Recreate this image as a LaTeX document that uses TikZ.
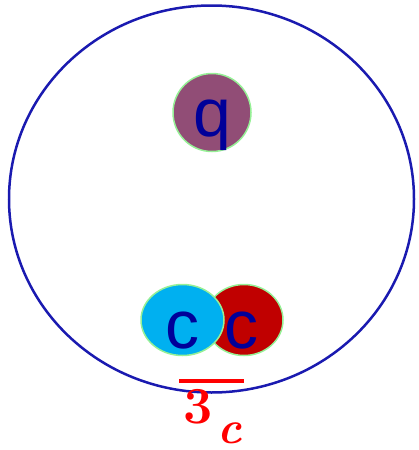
\documentclass[tikz,border=0pt]{standalone}
\usepackage{fontspec}
\setsansfont{Liberation Sans}
\definecolor{ringblue}{RGB}{26,26,176}
\definecolor{qfill}{RGB}{145,77,118}
\definecolor{cyanfill}{RGB}{0,176,240}
\definecolor{redfill}{RGB}{192,0,0}
\definecolor{rimgreen}{RGB}{150,240,150}
\definecolor{letterblue}{RGB}{0,0,153}
\definecolor{labelred}{RGB}{255,0,0}
\tikzset{
  quark/.style={ellipse, draw=rimgreen, line width=1.5pt, inner sep=0pt},
  letter/.style={text=letterblue, font=\sffamily\fontsize{68}{68}\selectfont, inner sep=0pt},
}
\usetikzlibrary{shapes.geometric}
\begin{document}
\begin{tikzpicture}[x=1pt,y=-1pt]
\useasboundingbox (0,0) rectangle (419,450);
\node[ellipse, draw=ringblue, line width=2.5pt, minimum width=405pt, minimum height=387pt, inner sep=0pt] (hadron) at (211.5,199) {};
\node[quark, fill=qfill, minimum width=78pt, minimum height=78pt] (q) at (212,112.5) {};
\node[letter, anchor=base] (qlab) at (212,136) {q};
\node[quark, fill=redfill, minimum width=78pt, minimum height=71pt] (c2) at (244,320) {};
\node[quark, fill=cyanfill, minimum width=83pt, minimum height=71pt] (c1) at (182.5,320) {};
\node[letter, anchor=base] (c1lab) at (182,348) {c};
\node[letter, anchor=base] (c2lab) at (241,348) {c};
\node[anchor=base west, inner sep=0pt, text=labelred, font=\bfseries\fontsize{52}{52}\selectfont] (lab) at (183,423) {3};
\node[anchor=base west, inner sep=0pt, text=labelred, font=\bfseries\itshape\fontsize{46}{46}\selectfont] (sub) at (217,443) {c};
\draw[labelred, line width=4pt] (179,381) -- (244,381);
\end{tikzpicture}
\end{document}
